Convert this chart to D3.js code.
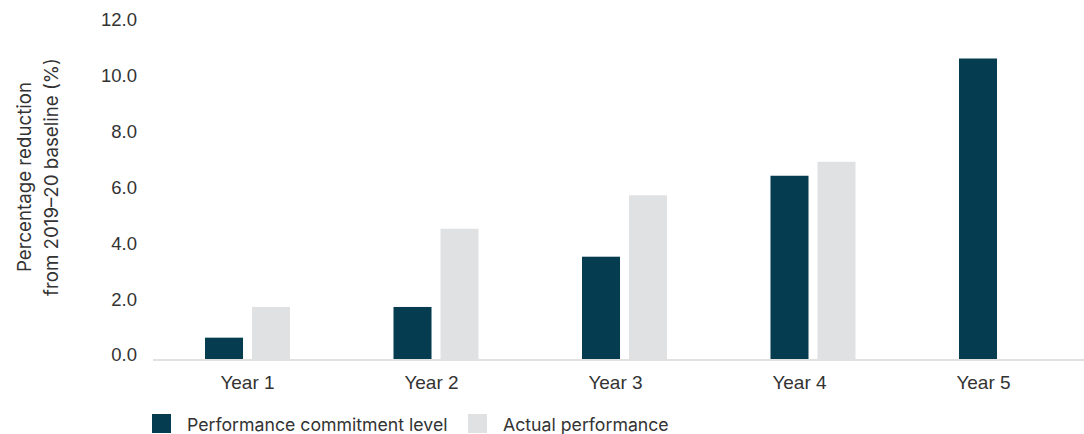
<!DOCTYPE html>
<html>
<head>
<meta charset="utf-8">
<script src="https://cdn.jsdelivr.net/npm/d3@7"></script>
<style>
  html, body { margin: 0; padding: 0; background: #fff; }
  svg { display: block; font-family: Inter, "Open Sans", sans-serif; }
</style>
</head>
<body>
<svg id="chart" width="1084" height="434"></svg>
<script>
// Percentage reduction from the 2019–20 baseline, by year
const years = ["Year 1", "Year 2", "Year 3", "Year 4", "Year 5"];
const seriesNames = ["Performance commitment level", "Actual performance"];
const commitmentLevel = [0.8, 1.9, 3.7, 6.6, 10.8];
const actualPerformance = [1.9, 4.7, 5.9, 7.1, null];
const yTicks = [0, 2, 4, 6, 8, 10, 12];
const yTitleLines = ["Percentage reduction", "from 2019–20 baseline (%)"];

const colors = ["#053c4f", "#e0e1e3"];
const textColor = "#333";

const svg = d3.select("#chart");

const y = d3.scaleLinear().domain([0, 12]).range([360, 25]);

const x0 = d3.scaleBand().domain(years).range([205, 1044]).paddingInner(0.549);
const x1 = d3.scaleBand().domain(seriesNames).range([0, x0.bandwidth()]).paddingInner(0.191);
const xLabel = d3.scalePoint().domain(years).range([247, 983]);

const rows = years.map((yr, i) => ({
  year: yr,
  values: [
    { key: seriesNames[0], value: commitmentLevel[i], color: colors[0] },
    { key: seriesNames[1], value: actualPerformance[i], color: colors[1] }
  ].filter(d => d.value != null)
}));

// Bars
svg.append("g").selectAll("g")
  .data(rows)
  .join("g")
  .attr("transform", d => `translate(${x0(d.year)},0)`)
  .selectAll("rect")
  .data(d => d.values)
  .join("rect")
  .attr("x", d => x1(d.key))
  .attr("width", x1.bandwidth())
  .attr("y", d => y(d.value))
  .attr("height", d => y(0) - y(d.value))
  .attr("fill", d => d.color);

// Baseline
svg.append("line")
  .attr("x1", 153).attr("x2", 1084)
  .attr("y1", y(0)).attr("y2", y(0))
  .attr("stroke", "#e1e1df").attr("stroke-width", 2);

// Y axis
const yAxis = svg.append("g")
  .attr("transform", "translate(137,-5)")
  .call(d3.axisLeft(y).tickValues(yTicks).tickSize(0).tickPadding(0).tickFormat(d3.format(".1f")));
yAxis.select(".domain").remove();
yAxis.selectAll("text")
  .attr("fill", textColor)
  .style("font-size", "18.5px");

// X axis labels
const xAxis = svg.append("g")
  .attr("transform", `translate(0,${y(0)})`)
  .call(d3.axisBottom(xLabel).tickSize(0).tickPadding(0));
xAxis.select(".domain").remove();
xAxis.selectAll("text")
  .attr("fill", textColor)
  .attr("dy", "0")
  .attr("y", 29)
  .style("font-size", "19px");

// Y axis title
const yTitle = svg.append("g").attr("transform", "translate(24,177) rotate(-90)");
yTitle.selectAll("text")
  .data(yTitleLines)
  .join("text")
  .attr("x", 0)
  .attr("y", (d, i) => i * 27)
  .attr("text-anchor", "middle")
  .attr("dominant-baseline", "central")
  .attr("fill", textColor)
  .style("font-size", "18.7px")
  .text(d => d);

// Legend
const legendX = [152, 468];
const legend = svg.append("g").selectAll("g")
  .data(seriesNames)
  .join("g")
  .attr("transform", (d, i) => `translate(${legendX[i]},414)`);
legend.append("rect")
  .attr("width", 19).attr("height", 19)
  .attr("fill", (d, i) => colors[i]);
legend.append("text")
  .attr("x", 35).attr("y", 10)
  .attr("dominant-baseline", "central")
  .attr("fill", textColor)
  .style("font-size", "17.7px")
  .text(d => d);
</script>
</body>
</html>
